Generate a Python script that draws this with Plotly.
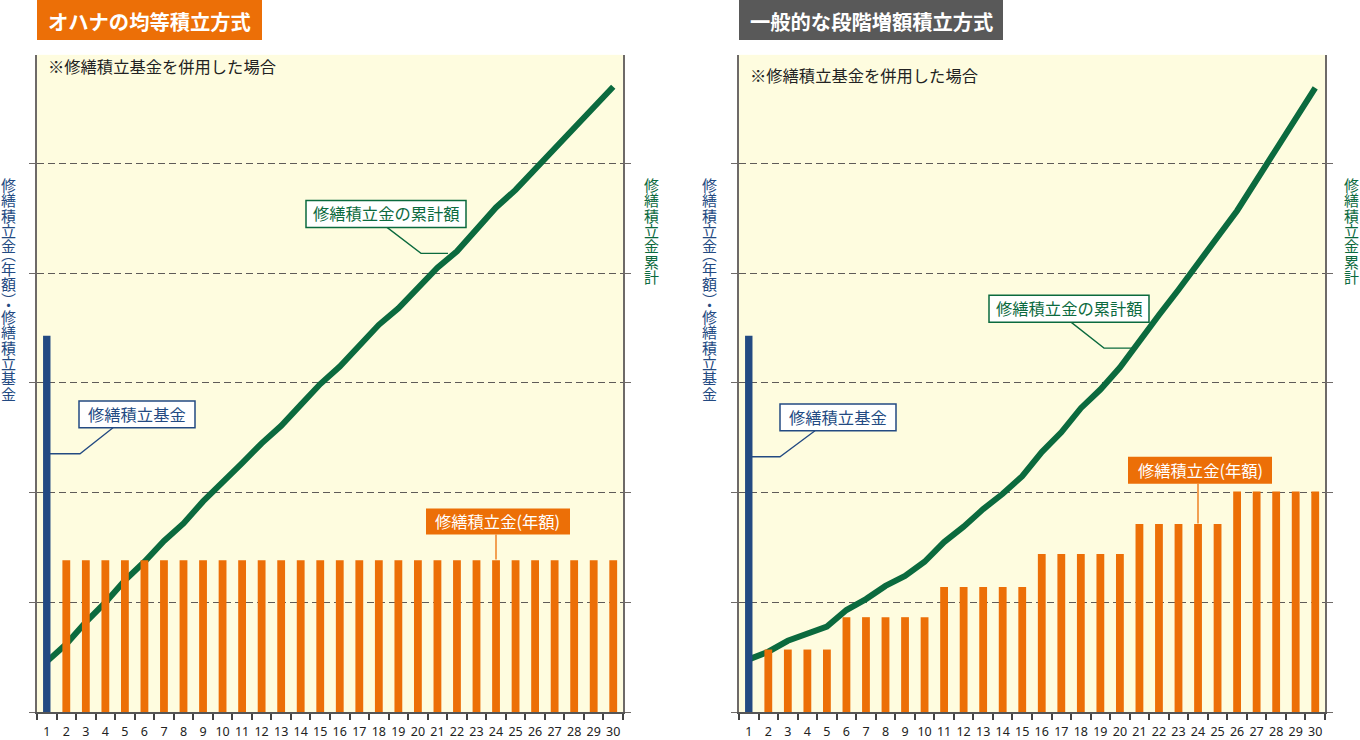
import plotly.graph_objs as go

# years and values, in gridline units (one dashed interval = 1)
years = list(range(1, 31))
fund_left = [3.43]
fund_right = [3.43]
annual_left = [1.385] * 29
annual_right = [0.57] * 4 + [0.865] * 5 + [1.14] * 5 + [1.44] * 5 + [1.715] * 5 + [2.01] * 5
total_left = [0.46, 0.62, 0.82, 1.0, 1.2, 1.37, 1.56, 1.72, 1.92, 2.09,
              2.27, 2.45, 2.61, 2.8, 2.99, 3.15, 3.34, 3.53, 3.68, 3.87,
              4.05, 4.2, 4.4, 4.6, 4.76, 4.95, 5.14, 5.32, 5.52, 5.7]
total_right = [0.48, 0.55, 0.65, 0.72, 0.78, 0.93, 1.03, 1.15, 1.24, 1.37,
               1.55, 1.69, 1.85, 1.99, 2.15, 2.37, 2.55, 2.77, 2.94, 3.14,
               3.39, 3.62, 3.85, 4.08, 4.33, 4.57, 4.85, 5.11, 5.4, 5.69]

W, H = 1360, 740
ORANGE = '#ec6f07'
BLUE = '#234a82'
GREEN = '#0b6a3e'
GREY = '#6e6a68'
BG = '#fefcdf'
FONT = 'Noto Sans CJK JP'


def px(x):
    return x / W


def py(y):
    return 1 - y / H


fig = go.Figure()

# green line goes on the base axes, bars on overlays so they sit on top of it
fig.add_trace(go.Scatter(x=years, y=total_left, mode='lines', xaxis='x', yaxis='y',
                         line=dict(color=GREEN, width=6)))
fig.add_trace(go.Scatter(x=years, y=total_right, mode='lines', xaxis='x2', yaxis='y2',
                         line=dict(color=GREEN, width=6)))
fig.add_trace(go.Bar(x=years[:1], y=fund_left, width=0.38, marker=dict(color=BLUE, line_width=0),
                     xaxis='x3', yaxis='y3'))
fig.add_trace(go.Bar(x=years[1:], y=annual_left, width=0.4, marker=dict(color=ORANGE, line_width=0),
                     xaxis='x3', yaxis='y3'))
fig.add_trace(go.Bar(x=years[:1], y=fund_right, width=0.38, marker=dict(color=BLUE, line_width=0),
                     xaxis='x4', yaxis='y4'))
fig.add_trace(go.Bar(x=years[1:], y=annual_right, width=0.4, marker=dict(color=ORANGE, line_width=0),
                     xaxis='x4', yaxis='y4'))

xrange = [0.5, 30.5]
yrange = [0, 659 / 110]


def x_axis(left, right):
    return dict(domain=[px(left), px(right)], range=xrange, tickmode='array', tickvals=years,
                ticks='outside', ticklen=7, tickcolor='rgba(0,0,0,0)',
                tickfont=dict(family='Noto Sans', size=12.5, color='#222222'),
                showline=True, linecolor='#555555', linewidth=2, showgrid=False, zeroline=False,
                minor=dict(tick0=0.5, dtick=1, ticks='outside', ticklen=6, tickcolor='#444444',
                           tickwidth=1.5, showgrid=False))


def y_axis():
    return dict(domain=[py(714), py(55)], range=yrange, tick0=0, dtick=1, showticklabels=False,
                ticks='outside', ticklen=6, tickcolor=GREY, tickwidth=1.2,
                showline=True, linecolor=GREY, linewidth=2, mirror='ticks',
                showgrid=True, gridcolor='#5f5b58', gridwidth=1.2, griddash='7px,4px', zeroline=False)


def overlay_x(over):
    return dict(overlaying=over, range=xrange, visible=False)


def overlay_y(over, anchor):
    return dict(overlaying=over, anchor=anchor, range=yrange, visible=False)


shapes = []
annotations = []


def label(text, x, y, size, color, bold=False, anchor='center'):
    annotations.append(dict(text=f'<b>{text}</b>' if bold else text, x=px(x), y=py(y),
                            xref='paper', yref='paper', xanchor=anchor, yanchor='middle',
                            showarrow=False,
                            font=dict(family=FONT, size=size, color=color)))


def box(x0, y0, x1, y1, fill, border=None):
    shapes.append(dict(type='rect', xref='paper', yref='paper', x0=px(x0), x1=px(x1),
                       y0=py(y0), y1=py(y1), fillcolor=fill,
                       line=dict(color=border, width=1.5) if border else dict(width=0)))


def leader(points, color):
    path = 'M' + ' L'.join(f'{px(x)},{py(y)}' for x, y in points)
    shapes.append(dict(type='path', path=path, xref='paper', yref='paper',
                       line=dict(color=color, width=1.3)))


def callout(text, x0, y0, x1, y1, color, points, filled=False):
    leader(points, color)
    box(x0, y0, x1, y1, color if filled else 'white', None if filled else color)
    label(text, (x0 + x1) / 2, (y0 + y1) / 2 - 0.5, 16.3, 'white' if filled else color)


STEP = 15.3


def vertical(parts, x, top, color):
    # line spacing follows the annotation font, so it is set small and the glyphs
    # are sized up inside a span to get a tight column
    y = top
    for part in parts:
        if part in ('︵', '︶', '・'):
            adv = 8.5
            em_top = y - 7 if part == '︵' else (y - 3.5 if part == '・' else y)
        else:
            adv = STEP * len(part)
            em_top = y
        text = '<br>'.join(f'<span style="font-size:15px">{ch}</span>' for ch in part)
        annotations.append(dict(text=text, x=px(x), y=py(em_top - 3), xref='paper', yref='paper',
                                xanchor='center', yanchor='top', showarrow=False,
                                font=dict(family=FONT, size=STEP / 1.3, color=color)))
        y += adv


# header boxes
box(37, 0, 262, 40, ORANGE)
label('オハナの均等積立方式', 46, 21, 20.3, 'white', bold=True, anchor='left')
box(739, 0, 1003, 40, '#595959')
label('一般的な段階増額積立方式', 747.5, 21, 20.3, 'white', bold=True, anchor='left')

label('※修繕積立基金を併用した場合', 45.5, 66, 16.3, '#222222', anchor='left')
label('※修繕積立基金を併用した場合', 747.5, 75, 16.3, '#222222', anchor='left')

# callouts, left chart
callout('修繕積立金の累計額', 306, 201, 466, 228, GREEN, [(387, 228), (421, 254), (448, 254)])
callout('修繕積立基金', 79, 402, 195, 429, BLUE, [(113, 429), (80, 455), (50, 455)])
callout('修繕積立金(年額)', 426, 510, 570, 536, ORANGE, [(496, 536), (496, 561)], filled=True)

# callouts, right chart
callout('修繕積立金の累計額', 989, 296, 1149, 323, GREEN, [(1071, 323), (1104, 349), (1132, 349)])
callout('修繕積立基金', 780, 405, 896, 432, BLUE, [(815, 432), (780, 458), (751, 458)])
callout('修繕積立金(年額)', 1128, 458, 1272, 485, ORANGE, [(1198, 485), (1198, 525)], filled=True)

# side titles
blue_title = ['修繕積立金', '︵', '年額', '︶', '・', '修繕積立基金']
green_title = ['修繕積立金累計']
vertical(blue_title, 8.5, 175, BLUE)
vertical(green_title, 651, 175, GREEN)
vertical(blue_title, 709, 175, BLUE)
vertical(green_title, 1351, 175, GREEN)

fig.update_layout(
    width=W, height=H, margin=dict(l=0, r=0, t=0, b=0), showlegend=False,
    paper_bgcolor='white', plot_bgcolor=BG, barmode='overlay',
    xaxis=dict(anchor='y', **x_axis(37, 623)),
    yaxis=dict(anchor='x', **y_axis()),
    xaxis2=dict(anchor='y2', **x_axis(739, 1325)),
    yaxis2=dict(anchor='x2', **y_axis()),
    xaxis3=overlay_x('x'),
    yaxis3=overlay_y('y', 'x3'),
    xaxis4=overlay_x('x2'),
    yaxis4=overlay_y('y2', 'x4'),
    shapes=shapes, annotations=annotations,
)

# no page margin or scrolling, so the figure lands at 1360x740 exactly
page_fix = ("document.body.style.margin='0';document.body.style.height='740px';"
            "document.body.style.overflow='hidden';document.documentElement.style.overflow='hidden';")
fig.write_html("out.html", config=dict(displayModeBar=False), post_script=page_fix)
